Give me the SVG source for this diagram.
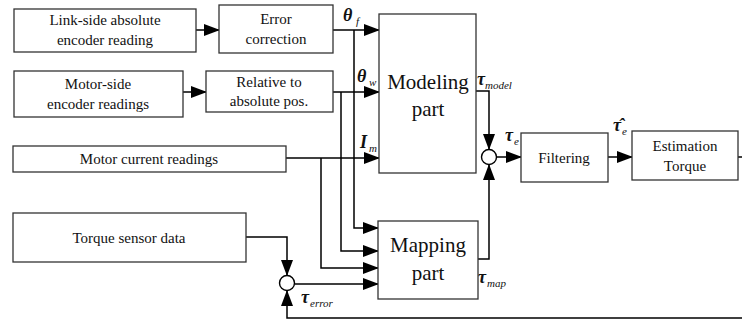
<svg xmlns="http://www.w3.org/2000/svg" width="742" height="324" viewBox="0 0 742 324" font-family="'Liberation Serif', 'DejaVu Serif', serif">
  <defs>
    <marker id="arrow" markerUnits="userSpaceOnUse" markerWidth="16" markerHeight="12" viewBox="0 0 16 12" refX="15" refY="6" orient="auto">
      <path d="M0,0 L16,6 L0,12 Z" fill="#000"/>
    </marker>
  </defs>
  <style>
    .box { fill: #fff; stroke: #333; stroke-width: 1.3; }
    .sum { fill: #fff; stroke: #000; stroke-width: 1.4; }
    .wire { fill: none; stroke: #000; stroke-width: 1.5; }
    .arr { marker-end: url(#arrow); }
    text { font-family: Liberation Serif, DejaVu Serif, serif; fill: #111; }
    .lbl { font-size: 15px; text-anchor: middle; }
    .big { font-size: 21px; }
    .sym { font-style: italic; font-weight: bold; font-size: 18px; }
    .sub { font-style: italic; font-size: 11px; }
  </style>
  <rect width="742" height="324" fill="#fff"/>

  <!-- signal wiring -->
  <g id="connectors">
    <path class="wire arr" d="M196,30 H219"/>
    <path class="wire arr" d="M333,30 H379"/>
    <path class="wire arr" d="M354,30 V228 H378"/>
    <path class="wire arr" d="M183,92 H206"/>
    <path class="wire arr" d="M333,92 H379"/>
    <path class="wire arr" d="M341,92 V251 H378"/>
    <path class="wire arr" d="M286,158 H379"/>
    <path class="wire arr" d="M321,158 V268 H378"/>
    <path class="wire arr" d="M246,237 H287 V275"/>
    <path class="wire arr" d="M295,284 H378"/>
    <path class="wire arr" d="M742,318 H287 V291"/>
    <path class="wire arr" d="M476,91 H489 V149"/>
    <path class="wire arr" d="M478,259 H489 V165"/>
    <path class="wire arr" d="M497,157 H521"/>
    <path class="wire arr" d="M608,157 H632"/>
    <path class="wire" d="M738,157 H742"/>
  </g>

  <g id="link-encoder">
    <rect class="box" x="14" y="9" width="182" height="43"/>
    <text class="lbl" x="105" y="25" font-family="'Liberation Serif', serif">Link-side absolute</text>
    <text class="lbl" x="105" y="45">encoder reading</text>
  </g>
  <g id="error-correction">
    <rect class="box" x="219" y="5" width="114" height="48"/>
    <text class="lbl" x="276" y="24">Error</text>
    <text class="lbl" x="276" y="44">correction</text>
  </g>
  <g id="motor-encoder">
    <rect class="box" x="14" y="71" width="169" height="46"/>
    <text class="lbl" x="98" y="89">Motor-side</text>
    <text class="lbl" x="98" y="109">encoder readings</text>
  </g>
  <g id="relative-to-absolute">
    <rect class="box" x="206" y="71" width="127" height="41"/>
    <text class="lbl" x="269" y="87">Relative to</text>
    <text class="lbl" x="269" y="106">absolute pos.</text>
  </g>
  <g id="motor-current">
    <rect class="box" x="13" y="146" width="273" height="26"/>
    <text class="lbl" x="149" y="164">Motor current readings</text>
  </g>
  <g id="torque-sensor">
    <rect class="box" x="13" y="213" width="233" height="49"/>
    <text class="lbl" x="129" y="243">Torque sensor data</text>
  </g>
  <g id="modeling-part">
    <rect class="box" x="379" y="14" width="97" height="159"/>
    <text class="lbl big" x="428" y="89">Modeling</text>
    <text class="lbl big" x="428" y="116">part</text>
  </g>
  <g id="mapping-part">
    <rect class="box" x="378" y="221" width="100" height="78"/>
    <text class="lbl big" x="428" y="252">Mapping</text>
    <text class="lbl big" x="428" y="280">part</text>
  </g>
  <g id="sum-model">
    <circle class="sum" cx="489" cy="157" r="7.5"/>
  </g>
  <g id="sum-error">
    <circle class="sum" cx="287" cy="283" r="7.5"/>
  </g>
  <g id="filtering">
    <rect class="box" x="521" y="133" width="87" height="49"/>
    <text class="lbl" x="564" y="163">Filtering</text>
  </g>
  <g id="estimation-torque">
    <rect class="box" x="632" y="131" width="106" height="49"/>
    <text class="lbl" x="685" y="151">Estimation</text>
    <text class="lbl" x="685" y="171">Torque</text>
  </g>

  <!-- signal names -->
  <g id="signal-labels">
    <text class="sym" x="343" y="21">θ</text><text class="sub" x="356" y="25">f</text>
    <text class="sym" x="357" y="82">θ</text><text class="sub" x="369" y="86">w</text>
    <text class="sym" x="360" y="148">I</text><text class="sub" x="369" y="152">m</text>
    <text class="sym" x="477" y="85">τ</text><text class="sub" x="485" y="89">model</text>
    <text class="sym" x="505" y="141">τ</text><text class="sub" x="514" y="145">e</text>
    <text class="sym" x="613" y="131">τ̂</text><text class="sub" x="622" y="135">e</text>
    <text class="sym" x="301" y="303">τ</text><text class="sub" x="310" y="307">error</text>
    <text class="sym" x="478" y="283">τ</text><text class="sub" x="487" y="287">map</text>
  </g>
</svg>
